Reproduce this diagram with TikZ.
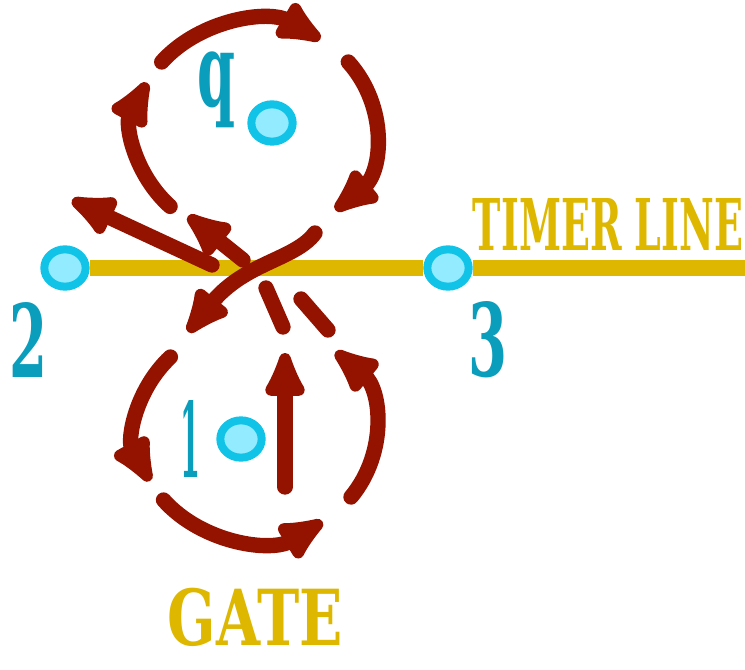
\documentclass[tikz,border=0pt]{standalone}
\usepackage{fontspec}
\usepackage{graphicx}
\usetikzlibrary{arrows.meta,shapes.geometric,backgrounds}
\newfontfamily\wfont{DejaVu Serif}
\definecolor{gold}{RGB}{221,183,0}
\definecolor{rust}{RGB}{148,18,0}
\definecolor{tealx}{RGB}{10,157,188}
\definecolor{cyanb}{RGB}{18,195,232}
\definecolor{cyanf}{RGB}{146,235,255}
\begin{document}
\begin{tikzpicture}[x=0.75pt,y=-0.75pt,
  dotnode/.style={ellipse,draw=cyanb,fill=cyanf,line width=6pt,minimum width=31pt,minimum height=28pt,inner sep=0pt},
  labnode/.style={inner sep=0pt,text=tealx,font=\wfont\bfseries},
  ttlnode/.style={inner sep=0pt,text=gold,font=\wfont\bfseries},
  timerline/.style={draw=gold,line width=12pt},
  flow/.style={draw=rust,line width=11.5pt,line cap=round,-{Latex[length=44pt,width=37pt,round]}},
  dashseg/.style={draw=rust,line width=11.5pt,line cap=round}]
\useasboundingbox (0,0) rectangle (745,670);

% nodes on the timer line and inside the loops
\node[dotnode] (n2) at (65,268) {};
\node[dotnode] (n3) at (448,268) {};
\node[dotnode] (nq) at (272,123) {};
\node[dotnode] (n1) at (241,439) {};
\coordinate (lend) at (745,268);

\begin{scope}[on background layer]
  \draw[timerline] (n2) -- (n3) -- (lend);
\end{scope}

% labels
\node[labnode] (l2) at (29,339.5) {\resizebox{28.5pt}{56.25pt}{2}};
\node[labnode] (l3) at (487.5,339.5) {\resizebox{29.25pt}{56.25pt}{3}};
\node[labnode] (l1) at (190,438.5) {\resizebox{15pt}{57.75pt}{1}};
\node[labnode] (lq) at (216,90) {\resizebox*{28.5pt}{57pt}{q}};
\node[ttlnode] (tl) at (608,224) {\resizebox{202.5pt}{39pt}{TIMER LINE}};
\node[ttlnode] (gt) at (255.5,617) {\resizebox{131.25pt}{43pt}{GATE}};

% upper loop
\coordinate (ta) at (161.7,62.0);
\coordinate (ra) at (348.3,62.0);
\coordinate (la) at (170.1,206.4);
\draw[flow] (ta) arc[start angle=219,end angle=303,x radius=120,y radius=108];
\draw[flow] (ra) arc[start angle=-39,end angle=48,x radius=120,y radius=108];
\draw[flow] (la) arc[start angle=135,end angle=206,x radius=120,y radius=108];

% crossing strokes
\coordinate (xa) at (212,265);
\coordinate (xb) at (72,200);
\draw[flow] (xa) -- (xb);
\coordinate (sa) at (315,233);
\coordinate (sb) at (188,332);
\draw[flow] (sa) .. controls (295,260) and (245,262) .. (sb);
\coordinate (ua) at (243,260);
\coordinate (ub) at (188,216);
\draw[flow] (ua) -- (ub);
\coordinate (d1a) at (266,288);
\coordinate (d1b) at (283,327);
\coordinate (d2a) at (301,299);
\coordinate (d2b) at (328,330);
\draw[dashseg] (d1a) -- (d1b);
\draw[dashseg] (d2a) -- (d2b);

% lower loop
\coordinate (lb) at (170.4,357);
\coordinate (bb) at (163.5,500);
\coordinate (rb) at (351,497);
\draw[flow] (lb) arc[start angle=224,end angle=153,x radius=119,y radius=108];
\draw[flow] (bb) arc[start angle=141,end angle=56,x radius=119,y radius=108];
\draw[flow] (rb) arc[start angle=37,end angle=-48,x radius=119,y radius=108];
\coordinate (va) at (285,487);
\coordinate (vb) at (285,353);
\draw[flow] (va) -- (vb);
\end{tikzpicture}
\end{document}
